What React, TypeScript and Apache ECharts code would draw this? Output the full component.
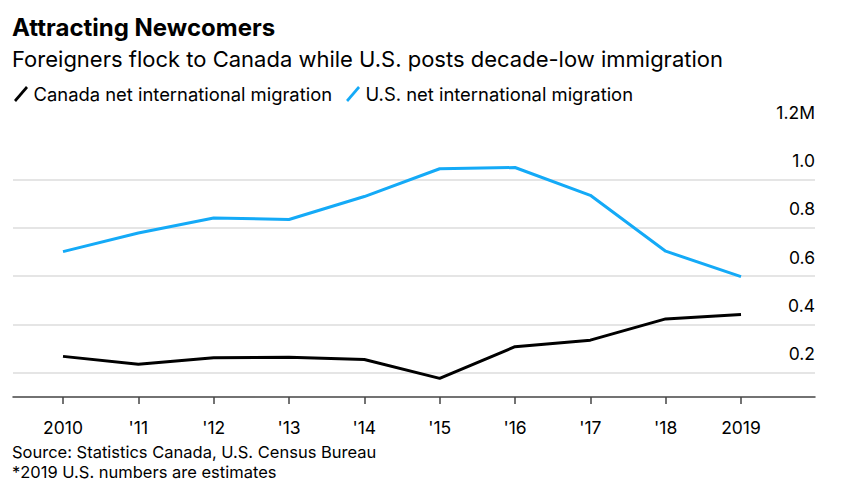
import React, { useEffect, useRef } from "react";
import * as echarts from "echarts";

const years = ["2010", "'11", "'12", "'13", "'14", "'15", "'16", "'17", "'18", "2019"];
const canada = [0.268, 0.235, 0.262, 0.264, 0.255, 0.177, 0.308, 0.335, 0.423, 0.441];
const us = [0.701, 0.778, 0.84, 0.834, 0.929, 1.044, 1.049, 0.934, 0.703, 0.598];
const canadaName = "Canada net international migration";
const usName = "U.S. net international migration";
const footer = ["Source: Statistics Canada, U.S. Census Bureau", "*2019 U.S. numbers are estimates"];

const FONT = "Inter, 'Liberation Sans', Arial, sans-serif";
const BLUE = "#14aaf7";
const SLASH = "path://M0,14 L12,0 L14,2 L2,16 Z";

export default function App() {
  const ref = useRef<HTMLDivElement>(null);
  useEffect(() => {
    if (!ref.current) return;
    const chart = echarts.init(ref.current, null, { renderer: "svg" });
    const yMin = 0.1;
    const yMax = 1.2;
    const footStyle = { fontFamily: FONT, fontSize: 16.5, lineHeight: 17, fontWeight: "normal", color: "#000" };
    chart.setOption({
      animation: false,
      backgroundColor: "#fff",
      textStyle: { fontFamily: FONT },
      title: [
        {
          text: "Attracting Newcomers",
          left: 12,
          top: 15,
          padding: 0,
          textStyle: { fontFamily: FONT, fontSize: 24, fontWeight: "bold", color: "#000" },
        },
        {
          text: "Foreigners flock to Canada while U.S. posts decade-low immigration",
          left: 12,
          top: 48,
          padding: 0,
          textStyle: { fontFamily: FONT, fontSize: 22, fontWeight: "normal", color: "#000" },
        },
        { text: footer[0], left: 12, top: 443.5, padding: 0, textStyle: footStyle },
        { text: footer[1], left: 12, top: 463.5, padding: 0, textStyle: footStyle },
      ],
      legend: {
        left: 14,
        top: 85,
        padding: 0,
        itemGap: 14,
        itemWidth: 15,
        itemHeight: 16,
        textStyle: { fontFamily: FONT, fontSize: 18.4, color: "#000", padding: [0, 0, 0, 0] },
        data: [
          { name: canadaName, icon: SLASH },
          { name: usName, icon: SLASH },
        ],
      },
      grid: [
        { left: 13, right: 43, top: 131, bottom: 103 },
        { left: 63, right: 117, top: 131, bottom: 103 },
      ],
      xAxis: [
        {
          gridIndex: 0,
          type: "category",
          data: [""],
          axisLine: { show: true, lineStyle: { color: "#444", width: 1.5 } },
          axisTick: { show: false },
          axisLabel: { show: false },
          splitLine: { show: false },
        },
        {
          gridIndex: 1,
          type: "category",
          data: years,
          boundaryGap: false,
          axisLine: { show: false },
          axisTick: { show: true, length: 7, lineStyle: { color: "#444", width: 1.5 } },
          axisLabel: { fontFamily: FONT, fontSize: 17.5, color: "#000", margin: 21 },
          splitLine: { show: false },
        },
      ],
      yAxis: [
        {
          gridIndex: 0,
          type: "value",
          position: "right",
          min: yMin,
          max: yMax,
          splitNumber: 5,
          axisLine: { show: false },
          axisTick: { show: false },
          splitLine: {
            show: true,
            showMinLine: false,
            showMaxLine: false,
            lineStyle: { color: "#dcdcdc", width: 1.5 },
          },
          axisLabel: {
            inside: true,
            margin: 0,
            showMinLabel: false,
            verticalAlign: "bottom",
            padding: [0, 0, 10, 0],
            fontFamily: FONT,
            fontSize: 17.5,
            color: "#000",
            formatter: (v: number) => {
              if (v < 0.15) return "";
              const s = v.toFixed(1);
              return Math.abs(v - yMax) < 1e-6 ? s + "M" : s;
            },
          },
        },
        {
          gridIndex: 1,
          type: "value",
          min: yMin,
          max: yMax,
          splitNumber: 5,
          show: false,
          splitLine: { show: false },
        },
      ],
      series: [
        {
          name: canadaName,
          type: "line",
          xAxisIndex: 1,
          yAxisIndex: 1,
          data: canada,
          symbol: "none",
          color: "#000",
          lineStyle: { color: "#000", width: 3 },
        },
        {
          name: usName,
          type: "line",
          xAxisIndex: 1,
          yAxisIndex: 1,
          data: us,
          symbol: "none",
          color: BLUE,
          lineStyle: { color: BLUE, width: 3 },
        },
      ],
    });
    return () => chart.dispose();
  }, []);
  return <div ref={ref} style={{ width: 858, height: 500, position: "absolute", left: 0, top: 0 }} />;
}
